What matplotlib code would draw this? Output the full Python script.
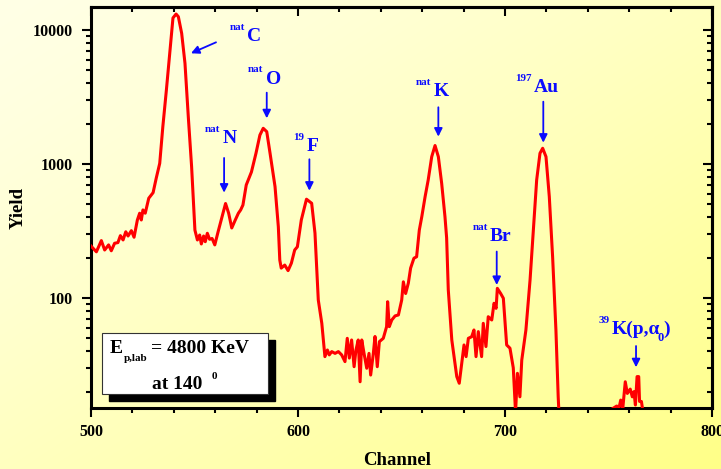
import matplotlib
matplotlib.use("Agg")
import matplotlib.pyplot as plt
import numpy as np
from matplotlib.patches import Rectangle
from matplotlib.ticker import FixedLocator, LogLocator, NullFormatter

plt.rcParams["font.family"] = ["Liberation Serif", "DejaVu Serif"]
plt.rcParams["font.weight"] = "bold"

# spectrum (channel, yield)
channel = [
    500.0, 502.6, 505.0, 506.6, 508.5, 509.8, 511.4, 513.0, 514.2, 515.5,
    516.8, 517.9, 519.5, 520.8, 522.4, 523.5, 524.3, 525.1, 526.2, 527.9,
    530.0, 531.5, 533.2, 534.7, 536.4, 538.0, 539.6, 541.1, 542.2, 543.8,
    545.4, 547.0, 548.6, 550.2, 551.4, 552.5, 553.3, 554.4, 555.2, 556.2,
    557.3, 558.5, 559.8, 561.4, 562.9, 565.0, 566.5, 568.0, 569.7, 571.2,
    572.3, 573.4, 575.0, 577.5, 579.7, 581.6, 583.2, 584.9, 586.5, 588.9,
    590.5, 591.2, 591.9, 593.6, 595.2, 596.8, 598.4, 599.7, 601.6, 604.1,
    606.6, 608.2, 609.8, 611.5, 613.0, 614.2, 615.1, 616.3, 617.9, 619.5,
    621.1, 622.7, 623.8, 624.8, 625.9, 627.1, 628.0, 629.1, 630.0, 630.8,
    631.9, 633.2, 634.3, 635.1, 636.4, 637.2, 638.3, 639.3, 641.2, 642.8,
    643.3, 644.1, 645.3, 646.9, 648.5, 650.1, 650.9, 652.0, 653.3, 654.4,
    656.0, 657.3, 658.6, 659.8, 661.4, 662.9, 664.6, 666.2, 667.8, 669.4,
    671.0, 671.8, 672.6, 674.3, 675.8, 676.7, 677.9, 679.1, 680.2, 681.2,
    682.3, 683.9, 685.0, 686.0, 687.1, 688.7, 689.5, 690.8, 691.9, 693.6,
    694.7, 695.7, 696.3, 697.9, 699.2, 700.8, 702.4, 704.0, 705.1, 706.0,
    707.2, 708.1, 710.1, 712.1, 713.7, 715.3, 716.9, 718.2, 719.8, 721.4,
    723.0, 724.6, 725.7, 726.5, 735.0, 745.0, 749.9, 750.7, 753.9, 755.2,
    755.9, 756.9, 758.1, 759.1, 760.5, 761.5, 762.3, 763.0, 763.8, 764.6,
    765.0, 765.9, 766.7, 768.0, 800.0,
]
counts = [
    244, 221, 268, 228, 249, 225, 256, 259, 292, 271,
    312, 290, 318, 284, 382, 429, 382, 454, 429, 555,
    611, 782, 1011, 1897, 3540, 6590, 12300, 13150, 12560, 9440,
    5640, 2254, 955, 321, 271, 295, 253, 290, 263, 304,
    274, 278, 249, 312, 382, 507, 429, 333, 382, 429,
    454, 494, 697, 871, 1202, 1644, 1846, 1742, 1202, 678,
    340, 192, 167, 176, 160, 182, 228, 241, 382, 546,
    509, 305, 96.6, 64.7, 36.5, 40.9, 37.6, 39.8, 38.6, 39.8,
    37.6, 33.5, 50.0, 35.6, 48.6, 30.7, 40.9, 48.6, 23.7, 48.6,
    38.6, 29.9, 38.6, 26.6, 38.6, 51.6, 30.7, 47.2, 50.0, 61.1,
    93.8, 61.1, 68.5, 73.5, 74.7, 96.6, 132, 108, 129, 167,
    198, 203, 321, 404, 570, 760, 1133, 1373, 1133, 718,
    404, 281, 115, 48.6, 32.6, 25.9, 23.1, 32.6, 44.6, 36.5,
    50.0, 51.4, 57.7, 36.5, 56.1, 36.5, 64.7, 43.4, 72.5, 68.5,
    91.3, 83.7, 118, 108, 99.5, 44.6, 42.2, 30.1, 14, 27.4,
    18.3, 34.4, 57.7, 136, 321, 760, 1202, 1310, 1133, 570,
    203, 57.7, 18.3, 10, 8, 8, 10, 14.5, 15.6, 15.4,
    17.3, 15.0, 23.7, 19.4, 20.9, 18.3, 20.0, 15.9, 25.9, 25.9,
    16.9, 16.9, 14, 10, 10,
]

x_ticks = [500, 600, 700, 800]
y_ticks = [100, 1000, 10000]
y_tick_labels = ["100", "1000", "10000"]

# peak labels: isotope prefix, element, text anchor, arrow tail, arrow head
peaks = [
    ("nat", "C", (575.4, 9000), (560.4, 8090), (548.3, 6700)),
    ("nat", "O", (584.4, 4305), (584.9, 3405), (584.9, 2192)),
    ("nat", "N", (563.6, 1556), (564.3, 1109), (564.3, 611)),
    ("19", "F", (604.2, 1346), (605.5, 1084), (605.5, 632)),
    ("nat", "K", (665.4, 3468), (667.8, 2649), (667.8, 1600)),
    ("197", "Au", (714.0, 3733), (718.5, 2917), (718.5, 1442)),
    ("nat", "Br", (692.8, 286), (696.0, 222), (696.0, 125)),
    ("39", "K(p,α", (751.5, 58.4), (763.3, 43.8), (763.3, 30.4)),
]

BLUE = "#0b0bff"
W, H = 721, 469


def px_to_axes(x, y):
    """Convert reference pixel position to axes fraction (frame 91..712, 7..408)."""
    return (x - 91) / 621, (408 - y) / 401


fig = plt.figure(figsize=(W / 100, H / 100), dpi=100)

# diagonal cream -> yellow background over the whole figure
bg = fig.add_axes([0, 0, 1, 1], zorder=0)
gx, gy = np.meshgrid(np.linspace(0, 1, W), np.linspace(0, 1, H))
t = np.clip((gx + gy) / 2, 0, 1) ** 1.3
top_left = np.array([255, 255, 230]) / 255
bottom_right = np.array([255, 255, 135]) / 255
grad = top_left[None, None, :] * (1 - t[..., None]) + bottom_right[None, None, :] * t[..., None]
bg.imshow(grad, aspect="auto", extent=[0, 1, 0, 1], origin="upper")
bg.axis("off")

ax = fig.add_axes([91 / W, 1 - 408 / H, 621 / W, 401 / H], zorder=1)
ax.set_facecolor("none")
ax.plot(channel, counts, color="#ff0000", lw=2.2, zorder=3)
ax.set_yscale("log")
ax.set_xlim(500, 800)
ax.set_ylim(15.1, 14840)

ax.set_xticks(x_ticks)
ax.xaxis.set_minor_locator(FixedLocator(np.arange(500, 801, 20)))
ax.set_yticks(y_ticks, labels=y_tick_labels)
ax.yaxis.set_minor_locator(LogLocator(subs=np.arange(2, 10)))
ax.yaxis.set_minor_formatter(NullFormatter())
ax.tick_params(which="both", direction="out", width=1.5, labelsize=11.5)
ax.tick_params(which="major", length=6.5)
ax.tick_params(which="minor", length=3.5)
ax.tick_params(axis="x", pad=5)
ax.tick_params(axis="y", pad=6.5)
for spine in ax.spines.values():
    spine.set_linewidth(2.2)

top = ax.secondary_xaxis("top")
top.set_xticks(x_ticks)
top.xaxis.set_minor_locator(FixedLocator(np.arange(500, 801, 20)))
top.tick_params(which="both", direction="in", width=1.5, labeltop=False)
top.tick_params(which="major", length=6.5)
top.tick_params(which="minor", length=3.5)
top.spines["top"].set_linewidth(2.2)

right = ax.secondary_yaxis("right")
right.set_yticks(y_ticks)
right.yaxis.set_minor_locator(LogLocator(subs=np.arange(2, 10)))
right.yaxis.set_minor_formatter(NullFormatter())
right.tick_params(which="both", direction="in", width=1.5, labelright=False)
right.tick_params(which="major", length=6.5)
right.tick_params(which="minor", length=3.5)
right.spines["right"].set_linewidth(2.2)

fig.text(397 / W, 1 - 460 / H, "Channel", ha="center", va="center", fontsize=13.5)
fig.text(18 / W, 1 - 208 / H, "Yield", ha="center", va="center", fontsize=13.5, rotation=90)

# peak annotations
for prefix, name, anchor, tail, head in peaks:
    main = ax.text(anchor[0], anchor[1], name, color=BLUE, fontsize=14,
                   ha="left", va="center", zorder=5)
    ax.annotate(prefix, xy=(0, 0.5), xycoords=main, xytext=(-1.5, 6.5),
                textcoords="offset points", color=BLUE, fontsize=8,
                ha="right", va="center", zorder=5)
    ax.annotate("", xy=head, xytext=tail,
                arrowprops=dict(arrowstyle="-|>", color=BLUE, lw=1.3,
                                mutation_scale=12, shrinkA=0, shrinkB=0),
                zorder=5)
    if name.startswith("K(p"):
        sub = ax.annotate("0", xy=(1, 0.5), xycoords=main, xytext=(-1.5, -6),
                          textcoords="offset points", color=BLUE, fontsize=9,
                          ha="left", va="center", zorder=5)
        ax.annotate(")", xy=(1, 0.5), xycoords=(sub, main), xytext=(-0.5, 0),
                    textcoords="offset points", color=BLUE, fontsize=14,
                    ha="left", va="center", zorder=5)

# beam energy box with drop shadow
bx, by = px_to_axes(101.7, 394)
bw = (268.3 - 101.7) / 621
bh = (394 - 333.3) / 401
ax.add_patch(Rectangle((bx + 7 / 621, by - 7 / 401), bw, bh, transform=ax.transAxes,
                       facecolor="black", edgecolor="black", zorder=6, clip_on=False))
ax.add_patch(Rectangle((bx, by), bw, bh, transform=ax.transAxes,
                       facecolor="white", edgecolor="#333333", lw=0.8, zorder=7,
                       clip_on=False))
ax.text(*px_to_axes(110, 348.3), "E", transform=ax.transAxes, fontsize=14,
        ha="left", va="center", zorder=8)
ax.text(*px_to_axes(124, 358.3), "p,lab", transform=ax.transAxes, fontsize=8,
        ha="left", va="center", zorder=8)
ax.text(*px_to_axes(150.7, 348.3), "= 4800 KeV", transform=ax.transAxes, fontsize=14,
        ha="left", va="center", zorder=8)
ax.text(*px_to_axes(151.7, 384), "at 140", transform=ax.transAxes, fontsize=14,
        ha="left", va="center", zorder=8)
ax.text(*px_to_axes(211.7, 376), "0", transform=ax.transAxes, fontsize=8,
        ha="left", va="center", zorder=8)

fig.savefig("out.png", dpi=100)
